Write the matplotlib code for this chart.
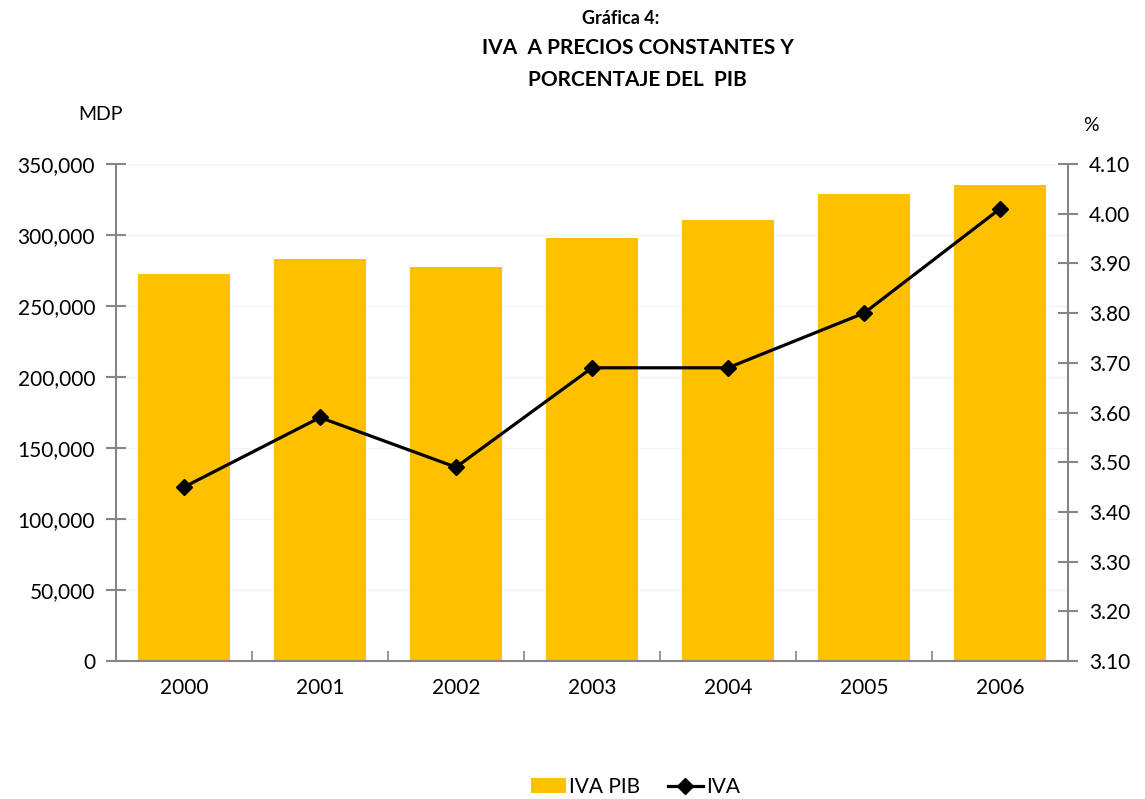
import matplotlib

matplotlib.use("Agg")
import matplotlib.pyplot as plt
from matplotlib.ticker import FuncFormatter, FixedLocator

plt.rcParams["font.family"] = ["Lato", "DejaVu Sans"]

years = ["2000", "2001", "2002", "2003", "2004", "2005", "2006"]
iva_pib = [272500, 283100, 277500, 297700, 310600, 328900, 335200]  # MDP
iva_pct = [3.45, 3.59, 3.49, 3.69, 3.69, 3.80, 4.01]  # % del PIB

BAR = "#FFC000"
AXIS = "#868686"

fig = plt.figure(figsize=(11.45, 7.99), dpi=100)
ax = fig.add_axes([0.1013, 0.1727, 0.8315, 0.622])
ax2 = ax.twinx()

x = range(len(years))
ax.bar(x, iva_pib, width=0.68, color=BAR, zorder=2, label="IVA PIB")
ax2.plot(x, iva_pct, color="black", lw=2.3, marker="D", ms=8, label="IVA", zorder=3)

ax.set_xlim(-0.5, len(years) - 0.5)
ax.set_ylim(0, 350000)
ax.set_yticks(range(0, 350001, 50000))
ax.yaxis.set_major_formatter(FuncFormatter(lambda v, p: f"{int(v):,}"))
ax2.set_ylim(3.10, 4.10)
ax2.set_yticks([3.10 + 0.1 * i for i in range(11)])
ax2.yaxis.set_major_formatter(FuncFormatter(lambda v, p: f"{v:.2f}"))

ax.grid(axis="y", color="#f3f3f3", lw=1, zorder=0)
ax.set_axisbelow(True)

# category labels at centers, tick marks at boundaries
ax.set_xticks(list(x))
ax.set_xticklabels(years)
ax.tick_params(axis="x", which="major", length=0, pad=12, labelsize=15)
ax.xaxis.set_minor_locator(FixedLocator([i + 0.5 for i in range(-1, len(years))]))
ax.tick_params(axis="x", which="minor", direction="in", length=7, width=1.2, color=AXIS)

for a in (ax, ax2):
    a.spines["top"].set_visible(False)
    for s in ("left", "right", "bottom"):
        a.spines[s].set_color(AXIS)
        a.spines[s].set_linewidth(1.5)
ax.spines["right"].set_visible(False)
ax2.spines["left"].set_visible(False)
ax2.spines["bottom"].set_visible(False)

ax.tick_params(axis="y", direction="inout", length=14, width=1.5, color=AXIS,
               labelsize=15, pad=8)
ax2.tick_params(axis="y", direction="inout", length=14, width=1.5, color=AXIS,
                labelsize=15, pad=8)

fig.text(0.542, 0.977, "Gráfica 4:", ha="center", va="center", fontsize=13, fontweight="bold")
fig.text(0.557, 0.940, "IVA  A PRECIOS CONSTANTES Y", ha="center", va="center",
         fontsize=15, fontweight="bold")
fig.text(0.557, 0.900, "PORCENTAJE DEL  PIB", ha="center", va="center",
         fontsize=15, fontweight="bold")
fig.text(0.088, 0.857, "MDP", ha="center", va="center", fontsize=14)
fig.text(0.953, 0.843, "%", ha="center", va="center", fontsize=14)

h1, l1 = ax.get_legend_handles_labels()
h2, l2 = ax2.get_legend_handles_labels()
fig.legend(h1 + h2, l1 + l2, loc="center", bbox_to_anchor=(0.555, 0.015), ncol=2,
           frameon=False, fontsize=15, handlelength=1.7, handletextpad=0.15,
           columnspacing=1.3)

fig.savefig("out.png", dpi=100)
